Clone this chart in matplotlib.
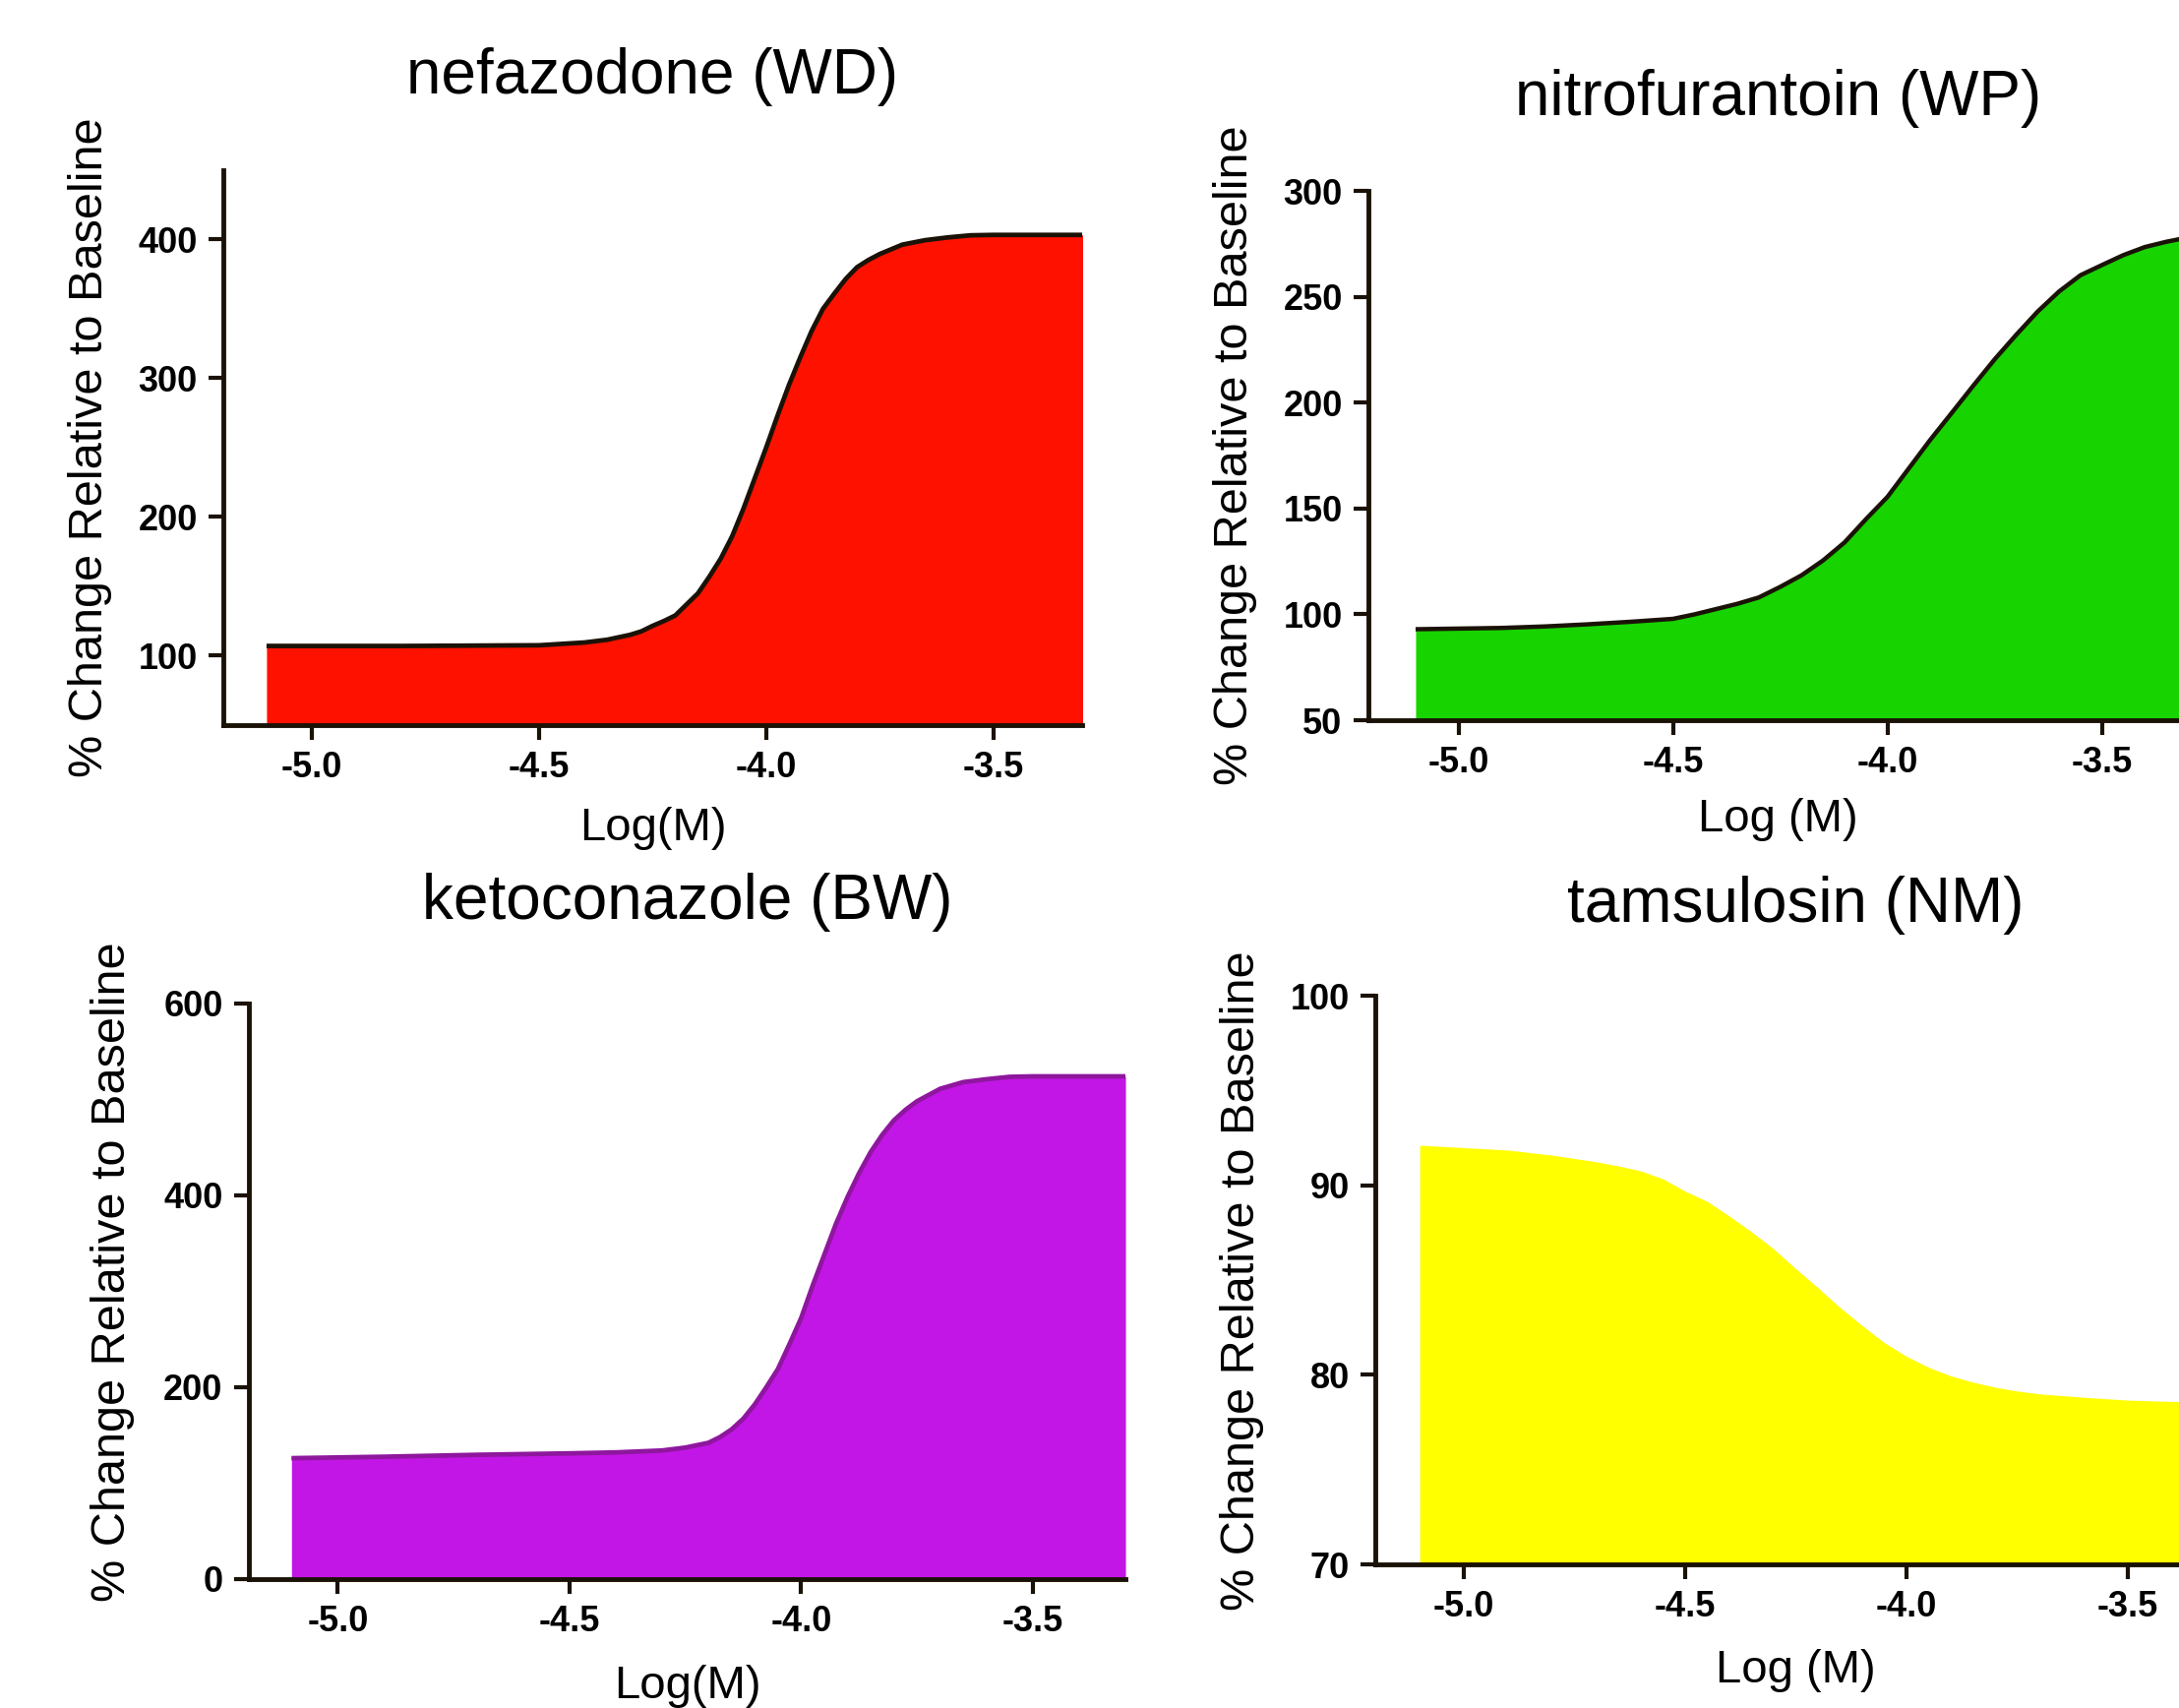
import matplotlib.pyplot as plt

plt.rcParams['font.family'] = ['Liberation Sans', 'DejaVu Sans']
plt.rcParams['axes.unicode_minus'] = False

# values, x is Log(M)
nefaz_x = [-5.1, -4.8, -4.5, -4.4, -4.35, -4.3, -4.275, -4.25, -4.225, -4.2, -4.175, -4.15,
           -4.125, -4.1, -4.075, -4.05, -4.025, -4.0, -3.975, -3.95, -3.925, -3.9, -3.875,
           -3.85, -3.825, -3.8, -3.775, -3.75, -3.7, -3.65, -3.6, -3.55, -3.5, -3.3]
nefaz_y = [107, 107, 107.5, 109.5, 111.5, 115, 117.5, 121.5, 125, 129, 137, 145,
           157, 170, 186, 206, 228, 250, 273, 295, 315, 334, 350,
           361, 371.5, 380, 385.2, 389.5, 396.3, 399.5, 401.5, 403, 403.3, 403.3]

nitro_x = [-5.1, -4.9, -4.8, -4.7, -4.6, -4.5, -4.45, -4.4, -4.35, -4.3, -4.25, -4.2, -4.15,
           -4.1, -4.05, -4.0, -3.95, -3.9, -3.85, -3.8, -3.75, -3.7, -3.65, -3.6, -3.55,
           -3.5, -3.45, -3.4, -3.35, -3.3]
nitro_y = [93, 93.6, 94.3, 95.3, 96.5, 97.9, 100, 102.5, 105, 108, 113, 118.5, 125.5,
           134, 145, 155.5, 169, 182.5, 195.2, 208, 220.5, 232, 243, 252.5, 260.2,
           265, 269.7, 273.5, 276, 278]

keto_x = [-5.1, -4.9, -4.7, -4.5, -4.4, -4.3, -4.25, -4.2, -4.175, -4.15, -4.125, -4.1,
          -4.075, -4.05, -4.025, -4.0, -3.975, -3.95, -3.925, -3.9, -3.875, -3.85, -3.825,
          -3.8, -3.775, -3.75, -3.7, -3.65, -3.6, -3.55, -3.5, -3.3]
keto_y = [126, 127.5, 129.5, 131, 132, 134, 137, 142, 148, 156, 167, 182,
          200, 219, 245, 272, 306, 338, 370, 398, 423, 445, 463,
          478, 489, 498, 511, 518, 521, 523.5, 524, 524]

tams_x = [-5.1, -5.0, -4.9, -4.8, -4.7, -4.65, -4.6, -4.55, -4.5, -4.45, -4.4, -4.35, -4.3,
          -4.25, -4.2, -4.15, -4.1, -4.05, -4.0, -3.95, -3.9, -3.85, -3.8, -3.75, -3.7,
          -3.6, -3.5, -3.4, -3.3]
tams_y = [92.13, 92.0, 91.87, 91.6, 91.25, 91.03, 90.77, 90.35, 89.7, 89.16, 88.38, 87.55, 86.65,
          85.6, 84.6, 83.55, 82.6, 81.7, 80.98, 80.4, 79.95, 79.62, 79.35, 79.15, 79.0,
          78.82, 78.67, 78.6, 78.55]

titles = ['nefazodone (WD)', 'nitrofurantoin (WP)', 'ketoconazole (BW)', 'tamsulosin (NM)']
xlabels = ['Log(M)', 'Log (M)', 'Log(M)', 'Log (M)']
ylabel = '% Change Relative to Baseline'
xticks = [-5.0, -4.5, -4.0, -3.5]
yticks = [[100, 200, 300, 400], [50, 100, 150, 200, 250, 300], [0, 200, 400, 600], [70, 80, 90, 100]]
ylims = [(50, 450), (50, 300), (0, 600), (70, 100)]

fig = plt.figure(figsize=(22.15, 17.36), dpi=100)


def draw_panel(rect, x, y, ylim, yt, title, xlab, fill, edge, lw, xlim, title_y, ylab_pos):
    ax = fig.add_axes(rect)
    ax.fill_between(x, y, ylim[0], color=fill, lw=0, zorder=1)
    if edge is not None:
        ax.plot(x, y, color=edge, lw=lw, zorder=2, solid_capstyle='butt')
    ax.set_xlim(xlim)
    ax.set_ylim(ylim)
    ax.set_xticks(xticks)
    ax.set_xticklabels(['%.1f' % t for t in xticks])
    ax.set_yticks(yt)
    ax.set_yticklabels([str(t) for t in yt])
    for s in ['top', 'right']:
        ax.spines[s].set_visible(False)
    for s in ['left', 'bottom']:
        ax.spines[s].set_linewidth(3.5)
        ax.spines[s].set_color('#1a1206')
        ax.spines[s].set_zorder(3)
    ax.tick_params(length=11, width=3, color='#1a1206', pad=8, labelsize=26)
    for lab in ax.get_xticklabels() + ax.get_yticklabels():
        lab.set_fontweight('bold')
    ax.text(0.5, title_y, title, transform=ax.transAxes, ha='center', va='center', fontsize=46)
    ax.set_xlabel(xlab, fontsize=34, va='center')
    ax.xaxis.set_label_coords(0.5, -0.187)
    ax.set_ylabel(ylabel, fontsize=35, va='center')
    ax.yaxis.set_label_coords(*ylab_pos)
    ax.patch.set_alpha(0)
    return ax


draw_panel([0.1025, 0.5755, 0.394, 0.3249], nefaz_x, nefaz_y, ylims[0], yticks[0], titles[0],
           xlabels[0], '#ff1100', '#1a1206', 3.4, (-5.195, -3.305), 1.168, (-0.155, 0.5))
draw_panel([0.628, 0.5783, 0.376, 0.3099], nitro_x, nitro_y, ylims[1], yticks[1], titles[1],
           xlabels[1], '#17d300', '#1a1206', 3.2, (-5.21, -3.3), 1.175, (-0.163, 0.5))
draw_panel([0.1142, 0.0755, 0.4023, 0.337], keto_x, keto_y, ylims[2], yticks[2], titles[2],
           xlabels[2], '#c216e6', '#8e179e', 3.4, (-5.192, -3.3), 1.176, (-0.155, 0.533))
draw_panel([0.6312, 0.0841, 0.386, 0.3327], tams_x, tams_y, ylims[3], yticks[3], titles[3],
           xlabels[3], '#ffff00', None, 0, (-5.2, -3.3), 1.16, (-0.159, 0.5))

fig.savefig('out.png', dpi=100)
